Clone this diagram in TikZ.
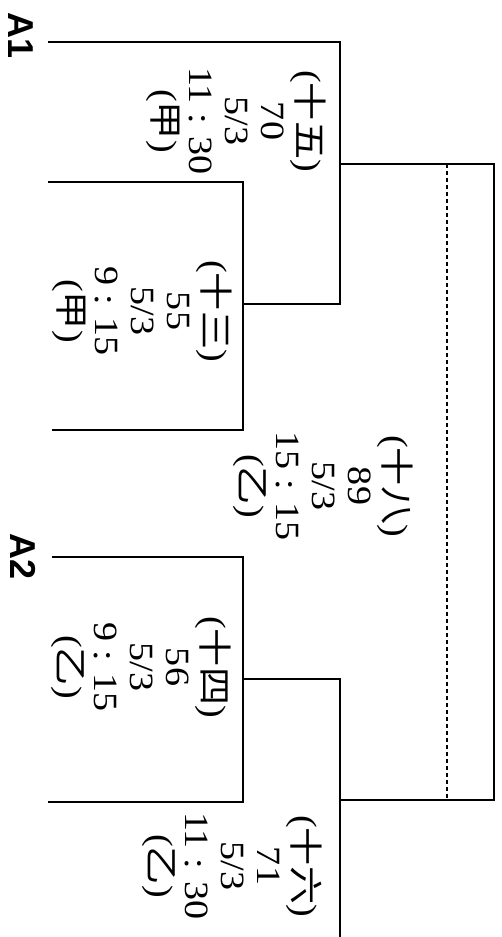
\documentclass[tikz,border=0pt]{standalone}
\usepackage{fontspec}
\setmainfont{Liberation Serif}
\newfontfamily\cjk{Noto Sans CJK SC}
\newfontfamily\seedfont{Liberation Sans}
\begin{document}
\begin{tikzpicture}[x=1pt,y=-1pt,line width=1.5pt,
  result/.style={yscale=1.12,rotate=-90,align=center,inner sep=0pt,font=\fontsize{34}{36}\selectfont},
  seed/.style={rotate=-90,inner sep=0pt,font=\seedfont\bfseries\fontsize{36}{36}\selectfont}]
  \useasboundingbox (0,0) rectangle (502,937);
  \coordinate (a1) at (48,42);
  \coordinate (b15) at (340,304);
  \coordinate (m13) at (243,304);
  \coordinate (t13l) at (48,182);
  \coordinate (b13) at (243,430);
  \coordinate (b13l) at (52,430);
  \coordinate (f15) at (340,164);
  \coordinate (fr) at (494,800);
  \coordinate (f16) at (340,800);
  \coordinate (d1) at (447,164);
  \coordinate (d2) at (447,800);
  \coordinate (a2) at (52,557);
  \coordinate (b14) at (243,802);
  \coordinate (b14l) at (48,802);
  \coordinate (m14) at (243,679);
  \coordinate (b16) at (340,937);
  \draw (a1) -| (b15) -- (m13);
  \draw (t13l) -| (b13) -- (b13l);
  \draw (f15) -| (fr) -- (f16);
  \draw[dash pattern=on 4pt off 3pt] (d1) -- (d2);
  \draw (a2) -| (b14) -- (b14l);
  \draw (m14) -| (b16);
  \node[seed] (seedA1) at (21,36) {A1};
  \node[seed] (seedA2) at (23,557) {A2};
  \node[result] (game15) at (236,121) {({\cjk 十五})\\70\\5/3\\11 : 30\\({\cjk 甲})};
  \node[result] (game13) at (142,311) {({\cjk 十三})\\55\\5/3\\9 : 15\\({\cjk 甲})};
  \node[result] (game18) at (323,486) {({\cjk 十八})\\89\\5/3\\15 : 15\\({\cjk 乙})};
  \node[result] (game14) at (141,667) {({\cjk 十四})\\56\\5/3\\9 : 15\\({\cjk 乙})};
  \node[result] (game16) at (232,866) {({\cjk 十六})\\71\\5/3\\11 : 30\\({\cjk 乙})};
\end{tikzpicture}
\end{document}
